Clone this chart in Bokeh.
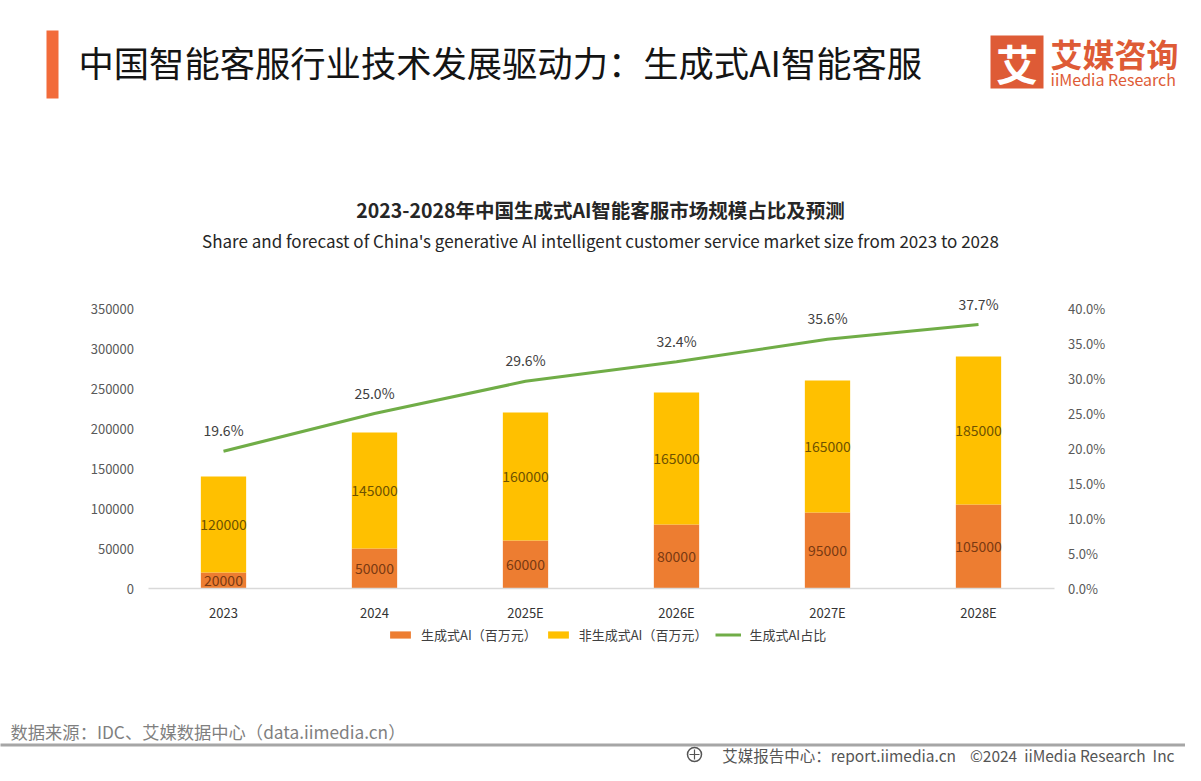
from bokeh.plotting import figure
from bokeh.models import (ColumnDataSource, Range1d, LinearAxis,
                          NumeralTickFormatter, FixedTicker, LabelSet, Legend, LegendItem)
from bokeh.embed import file_html
from bokeh.resources import INLINE
from bokeh.core.properties import value

# ---------------- data ----------------
categories = ["2023", "2024", "2025E", "2026E", "2027E", "2028E"]
gen_ai = [20000, 50000, 60000, 80000, 95000, 105000]          # 生成式AI（百万元）
non_gen_ai = [120000, 145000, 160000, 165000, 165000, 185000]  # 非生成式AI（百万元）
gen_share = [0.196, 0.250, 0.296, 0.324, 0.356, 0.377]         # 生成式AI占比
left_ticks = [0, 50000, 100000, 150000, 200000, 250000, 300000, 350000]
right_ticks = [0.0, 0.05, 0.10, 0.15, 0.20, 0.25, 0.30, 0.35, 0.40]

series_labels = ["生成式AI（百万元）", "非生成式AI（百万元）", "生成式AI占比"]
page_title = "中国智能客服行业技术发展驱动力：生成式AI智能客服"
chart_title = "2023-2028年中国生成式AI智能客服市场规模占比及预测"
chart_subtitle = "Share and forecast of China's generative AI intelligent customer service market size from 2023 to 2028"
source_note = "数据来源：IDC、艾媒数据中心（data.iimedia.cn）"
footer_right = "艾媒报告中心：report.iimedia.cn\u00a0\u00a0\u00a0\u00a0©2024\u00a0\u00a0iiMedia Research\u00a0\u00a0Inc"

FONT = "Noto Sans CJK SC"
ORANGE = "#ED7D31"
YELLOW = "#FFC000"
GREEN = "#70AD47"
BRAND = "#DE5B36"

# ---------------- layout constants (canvas pixels) ----------------
W, H = 1185, 765
ZERO_Y = 588          # canvas y of the value axis zero line
AXIS_PX = 280         # pixel height of the value axis (0 .. top tick)
X0 = 147.5            # canvas x where the category axis starts
SLOT = 151            # pixel width of one category slot

n = len(categories)
u_left = left_ticks[-1] / AXIS_PX
u_right = right_ticks[-1] / AXIS_PX
centers = [i + 0.5 for i in range(n)]

p = figure(width=W, height=H,
           x_range=Range1d(-X0 / SLOT, (W - X0) / SLOT),
           y_range=Range1d(-(H - ZERO_Y) * u_left, ZERO_Y * u_left),
           x_axis_location=None, y_axis_location=None,
           output_backend="svg", toolbar_location=None, min_border=0)
p.grid.visible = False
p.outline_line_color = None
p.background_fill_color = "white"
p.border_fill_color = "white"
p.extra_y_ranges = {"pct": Range1d(-(H - ZERO_Y) * u_right, ZERO_Y * u_right),
                    "py": Range1d(H, 0)}
p.extra_x_ranges = {"px": Range1d(0, W)}

src = ColumnDataSource(dict(
    x=centers,
    gen=gen_ai,
    non=non_gen_ai,
    share=gen_share,
    gen_mid=[g / 2 for g in gen_ai],
    non_mid=[g + v / 2 for g, v in zip(gen_ai, non_gen_ai)],
    gen_txt=[str(v) for v in gen_ai],
    non_txt=[str(v) for v in non_gen_ai],
    share_txt=[f"{s * 100:.1f}%" for s in gen_share],
))

bars = p.vbar_stack(["gen", "non"], x="x", width=0.3, color=[ORANGE, YELLOW],
                    line_color=None, source=src)
line = p.line(x="x", y="share", y_range_name="pct", source=src, line_color=GREEN, line_width=3)


def style_axis(ax, color):
    ax.axis_line_color = None
    ax.major_tick_line_color = None
    ax.minor_tick_line_color = None
    ax.major_label_standoff = 8
    ax.major_label_text_font = FONT
    ax.major_label_text_font_size = "13px"
    ax.major_label_text_color = color


# left axis
ya = LinearAxis(ticker=FixedTicker(ticks=left_ticks), formatter=NumeralTickFormatter(format="0"),
                fixed_location=0)
style_axis(ya, "#595959")
p.add_layout(ya, "left")

# right axis
ra = LinearAxis(y_range_name="pct", ticker=FixedTicker(ticks=right_ticks),
                formatter=NumeralTickFormatter(format="0.0%"), fixed_location=n)
style_axis(ra, "#595959")
p.add_layout(ra, "right")

# category axis
xa = LinearAxis(ticker=FixedTicker(ticks=centers), fixed_location=0, bounds=(0, n),
                major_label_overrides={c: cat for c, cat in zip(centers, categories)})
style_axis(xa, "#333333")
xa.axis_line_color = "#D9D9D9"
xa.axis_line_width = 1.5
p.add_layout(xa, "below")

# data labels
p.add_layout(LabelSet(x="x", y="gen_mid", text="gen_txt", source=src, text_align="center",
                      text_baseline="middle", text_font=value(FONT), text_font_size="14px",
                      text_color="#7A3A12"))
p.add_layout(LabelSet(x="x", y="non_mid", text="non_txt", source=src, text_align="center",
                      text_baseline="middle", text_font=value(FONT), text_font_size="14px",
                      text_color="#6E5200"))
p.add_layout(LabelSet(x="x", y="share", y_range_name="pct", text="share_txt", source=src,
                      y_offset=21, text_align="center", text_baseline="middle",
                      text_font=value(FONT), text_font_size="14px", text_color="#404040"))

legend = Legend(items=[LegendItem(label=series_labels[0], renderers=[bars[0]]),
                       LegendItem(label=series_labels[1], renderers=[bars[1]]),
                       LegendItem(label=series_labels[2], renderers=[line])],
                orientation="horizontal", location=(387, 121), padding=0, spacing=8,
                label_standoff=8, glyph_width=26, glyph_height=9, label_height=14,
                label_text_font=FONT, label_text_font_size="13px", label_text_color="#404040",
                border_line_color=None, background_fill_alpha=0, margin=0)
p.add_layout(legend)


# ---------------- header / footer (canvas-pixel ranges) ----------------
def txt(x, y, s, size, color, align="left", bold=False):
    p.text(x=[x], y=[y], text=[s], x_range_name="px", y_range_name="py",
           text_font=value(FONT), text_font_size=size, text_color=color,
           text_font_style="bold" if bold else "normal",
           text_align=align, text_baseline="middle")


p.quad(left=[46], right=[58], top=[30], bottom=[98], x_range_name="px", y_range_name="py",
       fill_color="#F26B3A", line_color=None)
txt(78, 61, page_title, "35.3px", "#141414")
# logo
p.quad(left=[990], right=[1043], top=[35], bottom=[88], x_range_name="px", y_range_name="py",
       fill_color=BRAND, line_color=None)
txt(1016.5, 62, "艾", "42px", "white", align="center", bold=True)
txt(1050, 52, "艾媒咨询", "32px", BRAND, bold=True)
txt(1050, 78, "iiMedia Research", "16px", BRAND)
# chart titles
txt(600, 209, chart_title, "19.5px", "#262626", align="center", bold=True)
txt(600, 240, chart_subtitle, "17px", "#262626", align="center")
# footer
txt(10, 731, source_note, "17.3px", "#7F7F7F")
p.quad(left=[-10], right=[W + 10], top=[743], bottom=[746], x_range_name="px", y_range_name="py",
       fill_color="#A6A6A6", line_color=None)
p.scatter(x=[694], y=[754], x_range_name="px", y_range_name="py", size=14, marker="circle",
          fill_color=None, line_color="#555555", line_width=1.5)
p.scatter(x=[694], y=[754], x_range_name="px", y_range_name="py", size=10, marker="cross",
          line_color="#555555", line_width=1.2)
txt(1174, 754, footer_right, "15.5px", "#555555", align="right")

open("out.html", "w").write(file_html(p, INLINE))
